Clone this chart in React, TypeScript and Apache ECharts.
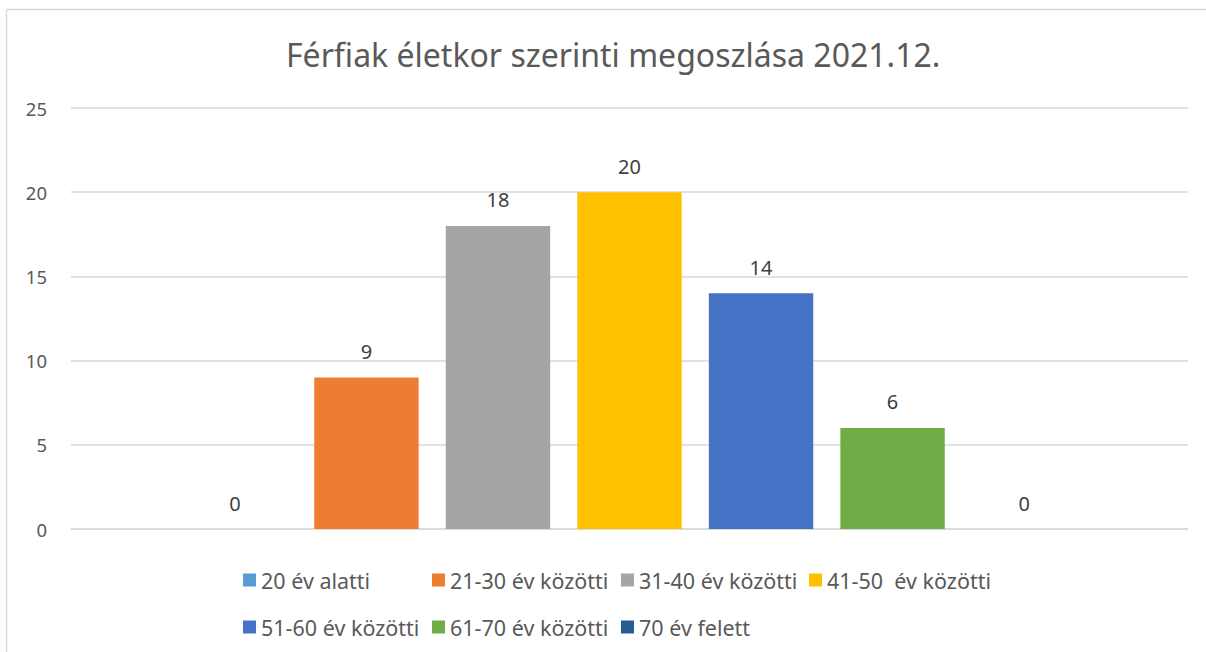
import React, { useEffect, useRef } from "react";
import * as echarts from "echarts";

const title = "Férfiak életkor szerinti megoszlása 2021.12.";
const categories = ["2021.12."];
const seriesNames = [
  "20 év alatti",
  "21-30 év közötti",
  "31-40 év közötti",
  "41-50  év közötti",
  "51-60 év közötti",
  "61-70 év közötti",
  "70 év felett",
];
const seriesValues = [0, 9, 18, 20, 14, 6, 0];
const seriesColors = ["#5B9BD5", "#ED7D31", "#A5A5A5", "#FFC000", "#4472C4", "#70AD47", "#255E91"];
const yTicks = { min: 0, max: 25, interval: 5 };

const FONT = "'Noto Sans', 'Open Sans', sans-serif";

const legendPos = [
  { left: 243, top: 569 },
  { left: 432, top: 569 },
  { left: 621, top: 569 },
  { left: 809, top: 569 },
  { left: 243, top: 616 },
  { left: 432, top: 616 },
  { left: 621, top: 616 },
];

export default function App() {
  const ref = useRef<HTMLDivElement>(null);
  useEffect(() => {
    if (!ref.current) return;
    const chart = echarts.init(ref.current, undefined, { renderer: "svg" });
    chart.setOption({
      animation: false,
      backgroundColor: "#ffffff",
      title: {
        text: title,
        left: 281,
        top: 33,
        textStyle: { fontFamily: FONT, fontSize: 32, fontWeight: "normal", color: "#595959" },
      },
      legend: seriesNames.map((n, i) => ({
        data: [n],
        left: legendPos[i].left,
        top: legendPos[i].top,
        padding: 0,
        itemWidth: 13,
        itemHeight: 13,
        icon: "rect",
        textStyle: { fontFamily: FONT, fontSize: 21.5, color: "#595959" },
      })),
      grid: { left: 71, right: 18, top: 108, bottom: 123 },
      xAxis: {
        type: "category",
        data: categories,
        axisLine: { show: true, lineStyle: { color: "#D9D9D9", width: 1.5 } },
        axisTick: { show: false },
        axisLabel: { show: false },
      },
      yAxis: {
        type: "value",
        min: yTicks.min,
        max: yTicks.max,
        interval: yTicks.interval,
        axisLine: { show: false },
        axisTick: { show: false },
        axisLabel: { fontFamily: FONT, fontSize: 18.5, color: "#595959", margin: 24 },
        splitLine: { lineStyle: { color: "#D9D9D9", width: 1.5 } },
      },
      series: seriesNames.map((n, i) => ({
        name: n,
        type: "bar",
        data: [seriesValues[i]],
        barCategoryGap: "20%",
        barGap: "26%",
        itemStyle: { color: seriesColors[i] },
        label: {
          show: true,
          position: "top",
          distance: 16,
          fontFamily: FONT,
          fontSize: 20,
          color: "#404040",
        },
      })),
      graphic: [
        {
          type: "line",
          shape: { x1: 6.5, y1: 9.5, x2: 1206, y2: 9.5 },
          style: { stroke: "#D9D9D9", lineWidth: 1.5 },
        },
        {
          type: "line",
          shape: { x1: 6.5, y1: 9.5, x2: 6.5, y2: 652 },
          style: { stroke: "#D9D9D9", lineWidth: 1.5 },
        },
      ],
    });
    return () => chart.dispose();
  }, []);
  return (
    <div
      ref={ref}
      style={{ position: "fixed", left: 0, top: 0, width: 1206, height: 652 }}
    />
  );
}
